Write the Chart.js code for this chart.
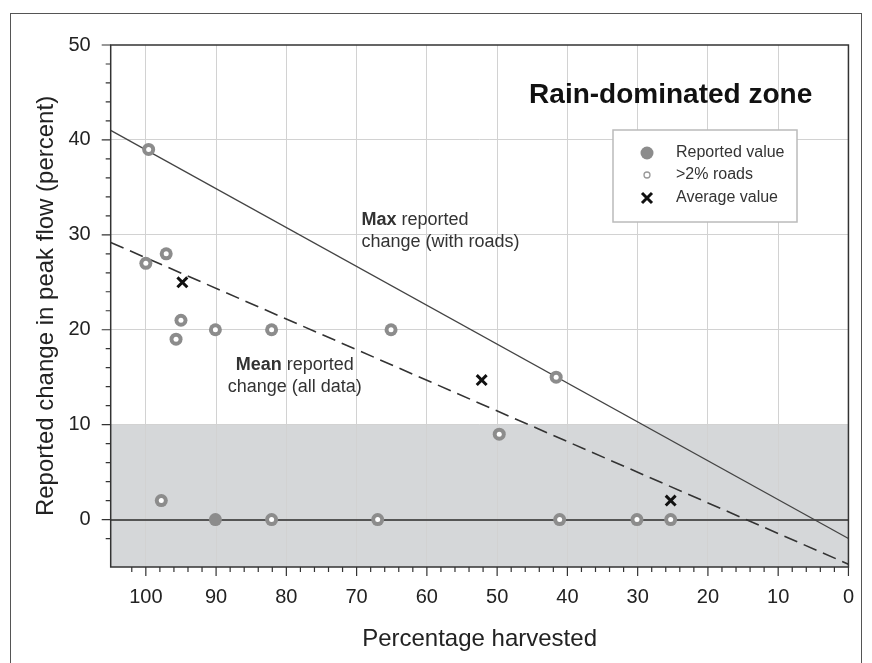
<!DOCTYPE html>
<html>
<head>
<meta charset="utf-8">
<script src="https://cdn.jsdelivr.net/npm/chart.js@4.4.1/dist/chart.umd.min.js"></script>
<style>
  html, body { margin: 0; padding: 0; background: #fff; overflow: hidden; }
  #wrap { position: relative; width: 872px; height: 663px; }
  #ram { position: absolute; left: 10px; top: 13px; width: 850px; height: 700px; border: 1.5px solid #555; pointer-events: none; }
</style>
</head>
<body>
<div id="wrap">
  <canvas id="graf" width="872" height="663"></canvas>
  <div id="ram"></div>
</div>
<script>
// hodnoty
const reportedX = [99.6, 100, 97.1, 95.0, 95.7, 90.1, 82.1, 65.1, 41.6, 49.7, 97.8, 90.1, 82.1, 67.0, 41.1, 30.1, 25.3];
const reportedY = [39, 27, 28, 21, 19, 20, 20, 20, 15, 9, 2, 0, 0, 0, 0, 0, 0];
const roadsX = [99.6, 100, 97.1, 95.0, 95.7, 90.1, 82.1, 65.1, 41.6, 49.7, 97.8, 82.1, 67.0, 41.1, 30.1, 25.3];
const roadsY = [39, 27, 28, 21, 19, 20, 20, 20, 15, 9, 2, 0, 0, 0, 0, 0];
const averageX = [94.8, 52.2, 25.3];
const averageY = [25, 14.7, 2];
const maxLineX = [105, 0];
const maxLineY = [41, -2];
const meanLineX = [105, 0];
const meanLineY = [29.2, -4.7];
const xTickLabels = [100, 90, 80, 70, 60, 50, 40, 30, 20, 10, 0];
const yTickLabels = [50, 40, 30, 20, 10, 0];

const pismo = "'Liberation Sans', Arial, sans-serif";

function body(xs, ys) {
    return xs.map(function(x, i) { return { x: x, y: ys[i] }; });
}

const pozadiPlugin = {
    id: "pozadi",
    beforeDraw: function(chart) {
        const c = chart.ctx, a = chart.chartArea, y = chart.scales.y;
        const y10 = y.getPixelForValue(10), yMin = y.getPixelForValue(-5);
        c.save();
        c.fillStyle = "#d5d7d9";
        c.fillRect(a.left, y10, a.right - a.left, yMin - y10);
        c.restore();
    },
    afterDraw: function(chart) {
        const c = chart.ctx, a = chart.chartArea, sx = chart.scales.x, sy = chart.scales.y;
        c.save();
        // ramecek grafu
        c.strokeStyle = "#333";
        c.lineWidth = 1.5;
        c.strokeRect(a.left, a.top, a.right - a.left, a.bottom - a.top);
        // carky na osach
        c.lineWidth = 1.2;
        c.beginPath();
        sx.ticks.forEach(function(t) {
            if (Math.abs(t.value % 2) > 0.001) return;
            const px = sx.getPixelForValue(t.value);
            const len = (t.value % 10 === 0) ? 9 : 5;
            c.moveTo(px, a.bottom); c.lineTo(px, a.bottom + len);
        });
        sy.ticks.forEach(function(t) {
            if (Math.abs(t.value % 2) > 0.001) return;
            const py = sy.getPixelForValue(t.value);
            const len = (t.value % 10 === 0) ? 9 : 5;
            c.moveTo(a.left, py); c.lineTo(a.left - len, py);
        });
        c.stroke();

        // nadpis
        c.fillStyle = "#111";
        c.font = "bold 28px " + pismo;
        c.textAlign = "center";
        c.textBaseline = "middle";
        c.fillText("Rain-dominated zone", sx.getPixelForValue(25.3), sy.getPixelForValue(44.7));

        // popisky car
        c.fillStyle = "#333";
        c.textAlign = "left";
        let lx = sx.getPixelForValue(69.3), ly = sy.getPixelForValue(31.6);
        c.font = "bold 18px " + pismo;
        c.fillText("Max", lx, ly);
        let w = c.measureText("Max ").width;
        c.font = "18px " + pismo;
        c.fillText("reported", lx + w, ly);
        c.fillText("change (with roads)", lx, sy.getPixelForValue(29.2));

        c.font = "bold 18px " + pismo;
        const w1 = c.measureText("Mean ").width;
        c.font = "18px " + pismo;
        const w2 = c.measureText("reported").width;
        let mx = sx.getPixelForValue(78.8) - (w1 + w2) / 2, my = sy.getPixelForValue(16.3);
        c.font = "bold 18px " + pismo;
        c.fillText("Mean", mx, my);
        c.font = "18px " + pismo;
        c.fillText("reported", mx + w1, my);
        c.textAlign = "center";
        c.fillText("change (all data)", sx.getPixelForValue(78.8), sy.getPixelForValue(14.0));

        // legenda
        c.fillStyle = "#fff";
        c.fillRect(613, 130, 184, 92);
        c.strokeStyle = "#bbb";
        c.lineWidth = 1.5;
        c.strokeRect(613, 130, 184, 92);
        c.fillStyle = "#8c8c8c";
        c.beginPath(); c.arc(647, 153, 6.5, 0, Math.PI * 2); c.fill();
        c.fillStyle = "#fff";
        c.strokeStyle = "#999";
        c.lineWidth = 1.3;
        c.beginPath(); c.arc(647, 175, 3, 0, Math.PI * 2); c.fill(); c.stroke();
        c.strokeStyle = "#111";
        c.lineWidth = 3;
        c.beginPath();
        c.moveTo(642, 193); c.lineTo(652, 203);
        c.moveTo(652, 193); c.lineTo(642, 203);
        c.stroke();
        c.fillStyle = "#333";
        c.font = "16px " + pismo;
        c.textAlign = "left";
        c.fillText("Reported value", 676, 153);
        c.fillText(">2% roads", 676, 175);
        c.fillText("Average value", 676, 198);
        c.restore();
    }
};

const ctx = document.getElementById("graf").getContext("2d");
new Chart(ctx, {
    type: "scatter",
    data: {
        datasets: [
            { type: "line", order: 5, data: body(maxLineX, maxLineY), borderColor: "#444", borderWidth: 1.3, pointRadius: 0, fill: false },
            { type: "line", order: 4, data: body(meanLineX, meanLineY), borderColor: "#333", borderWidth: 1.6, borderDash: [14, 7], pointRadius: 0, fill: false },
            { order: 3, data: body(reportedX, reportedY), backgroundColor: "#8c8c8c", borderWidth: 0, pointRadius: 6.5 },
            { order: 2, data: body(roadsX, roadsY), backgroundColor: "#fff", borderWidth: 0, pointRadius: 2.5 },
            { order: 1, data: body(averageX, averageY), pointStyle: "crossRot", pointRadius: 7, borderColor: "#111", borderWidth: 3 }
        ]
    },
    options: {
        responsive: false,
        animation: false,
        layout: { padding: { left: 0, top: 45, right: 19, bottom: 0 } },
        plugins: { legend: { display: false }, tooltip: { enabled: false } },
        scales: {
            x: {
                type: "linear", min: 0, max: 105, reverse: true,
                afterFit: function(s) { s.height = 96; },
                border: { display: false },
                grid: {
                    drawTicks: false,
                    color: function(c) { return (c.tick && xTickLabels.indexOf(c.tick.value) >= 0 && c.tick.value !== 0) ? "#d2d2d2" : "transparent"; },
                    lineWidth: 1
                },
                ticks: {
                    stepSize: 2, autoSkip: false, maxRotation: 0, padding: 18,
                    color: "#222", font: { family: pismo, size: 20 },
                    callback: function(v) { return xTickLabels.indexOf(v) >= 0 ? String(v) : ""; }
                },
                title: { display: true, text: "Percentage harvested", color: "#222", font: { family: pismo, size: 24 }, padding: { top: 0, bottom: 9 } }
            },
            y: {
                type: "linear", min: -5, max: 50,
                afterFit: function(s) { s.width = 110.7; },
                border: { display: false },
                grid: {
                    drawTicks: false,
                    color: function(c) {
                        if (!c.tick) return "transparent";
                        if (c.tick.value === 0) return "#555";
                        return (yTickLabels.indexOf(c.tick.value) >= 0 && c.tick.value !== 50) ? "#d2d2d2" : "transparent";
                    },
                    lineWidth: function(c) { return (c.tick && c.tick.value === 0) ? 2 : 1; }
                },
                ticks: {
                    stepSize: 2, autoSkip: false, padding: 20,
                    color: "#222", font: { family: pismo, size: 20 },
                    callback: function(v) { return yTickLabels.indexOf(v) >= 0 ? String(v) : ""; }
                },
                title: { display: true, text: "Reported change in peak flow (percent)", color: "#222", font: { family: pismo, size: 24 }, padding: { top: 32, bottom: 0 } }
            }
        }
    },
    plugins: [pozadiPlugin]
});
</script>
</body>
</html>
